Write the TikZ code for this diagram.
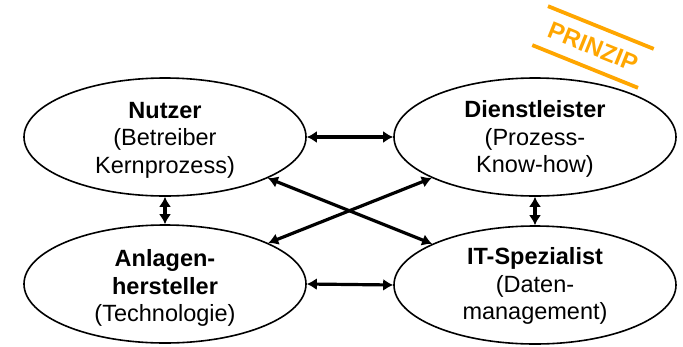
\documentclass[tikz,border=0pt]{standalone}
\usepackage{fontspec}
\setmainfont{Liberation Sans}
\usetikzlibrary{shapes.geometric,arrows.meta}
\definecolor{stamp}{RGB}{255,166,0}
\begin{document}
\begin{tikzpicture}[x=1pt,y=1pt,
  role/.style={ellipse,draw,line width=1.6pt,minimum width=282pt,minimum height=118pt,inner sep=0pt},
  rtext/.style={align=center,font=\fontsize{23.5}{27.5}\selectfont},
  link/.style={line width=3.2pt,{Latex[length=10pt,width=12pt]}-{Latex[length=10pt,width=12pt]}}]
\useasboundingbox (0,0) rectangle (683,-346);
\node[role] (nutzer) at (165,-137) {};
\node[role] (dienst) at (535,-137) {};
\node[role] (anlagen) at (165,-284) {};
\node[role] (it) at (535,-285) {};
\node[rtext] (tn) at (165,-140) {\textbf{Nutzer}\\(Betreiber\\Kernprozess)};
\node[rtext] (td) at (535,-139) {\textbf{Dienstleister}\\(Prozess-\\Know-how)};
\node[rtext] (ta) at (165,-288) {\textbf{Anlagen-}\\\textbf{hersteller}\\(Technologie)};
\node[rtext] (ti) at (535,-286) {\textbf{IT-Spezialist}\\(Daten-\\management)};
\draw[link] (nutzer.east) -- (dienst.west);
\draw[link] (anlagen.east) -- (it.west);
\draw[link] (nutzer) -- (anlagen);
\draw[link] (dienst) -- (it);
\draw[link] (nutzer) -- (it);
\draw[link] (dienst) -- (anlagen);
\begin{scope}[shift={(593,-47)},rotate=-22]
\draw[stamp,line width=3.8pt] (-57,21) coordinate (s1) -- (57,21) coordinate (s2);
\draw[stamp,line width=3.8pt] (-57,-21) coordinate (s3) -- (57,-21) coordinate (s4);
\node[stamp,font=\fontsize{24}{28}\selectfont\bfseries,rotate=-22] (prinzip) at (0,0) {PRINZIP};
\end{scope}
\end{tikzpicture}
\end{document}
